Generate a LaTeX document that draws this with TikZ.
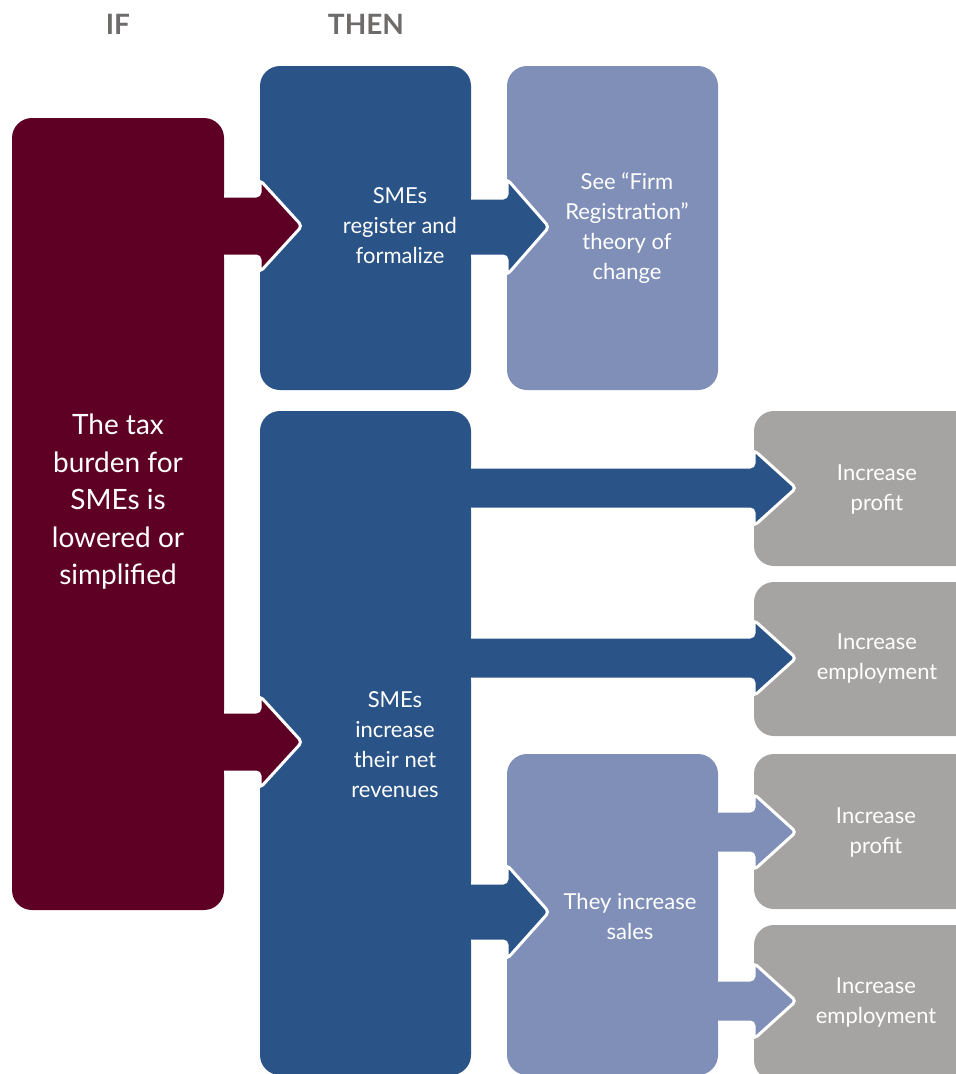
\documentclass[tikz,border=0pt]{standalone}
\usepackage{fontspec}
\setmainfont{Lato}
\usetikzlibrary{calc}

\definecolor{taxred}{HTML}{5E0024}
\definecolor{smeblue}{HTML}{2A5388}
\definecolor{paleblue}{HTML}{7F8FB8}
\definecolor{outgray}{HTML}{A5A4A2}
\definecolor{headgray}{HTML}{6E6C6B}

% Block arrow from the east side of one node to the west side of another,
% along the horizontal line through a given coordinate.
% #1 colour, #2 source, #3 target, #4 axis coordinate,
% #5 shaft half-height, #6 head half-height, #7 head length
\newcommand\blockarrow[7]{%
  \fill[#1, rounded corners=4pt]
    let \p1=(#2.east), \p2=(#3.west), \p3=(#4) in
    (\x1-12pt,\y3+#5pt) -- (\x2,\y3+#5pt) -- (\x2,\y3+#6pt) -- (\x2+#7pt,\y3)
    -- (\x2,\y3-#6pt) -- (\x2,\y3-#5pt) -- (\x1-12pt,\y3-#5pt) -- cycle;
  \draw[white, line width=3pt, rounded corners=4pt]
    let \p1=(#2.east), \p2=(#3.west), \p3=(#4) in
    (\x1,\y3+#5pt) -- (\x2,\y3+#5pt) -- (\x2,\y3+#6pt) -- (\x2+#7pt,\y3)
    -- (\x2,\y3-#6pt) -- (\x2,\y3-#5pt) -- (\x1,\y3-#5pt);
}

\begin{document}
\begin{tikzpicture}[x=1pt, y=-1pt,
  box/.style={rectangle, fill=#1, rounded corners=20pt, inner sep=0pt, outer sep=0pt},
  txt/.style={text=white, align=center, inner sep=0pt, font=\fontsize{22}{30}\selectfont},
  bigtxt/.style={text=white, align=center, inner sep=0pt, font=\fontsize{28}{37.5}\selectfont},
  head/.style={text=headgray, inner sep=0pt, font=\fontsize{28}{32}\selectfont\bfseries}]

\useasboundingbox (0,0) rectangle (956,1074);
\clip (0,0) rectangle (956,1074);

% column headings
\node[head] (if)   at (118,24) {IF};
\node[head] (then) at (366,24) {THEN};

% boxes
\node[box=taxred,   minimum width=212, minimum height=792] (tax)   at (118,514) {};
\node[box=smeblue,  minimum width=211, minimum height=324] (reg)   at (365.5,228) {};
\node[box=paleblue, minimum width=211, minimum height=324] (firm)  at (612.5,228) {};
\node[box=smeblue,  minimum width=211, minimum height=664] (net)   at (365.5,743) {};
\node[box=paleblue, minimum width=211, minimum height=321] (sales) at (612.5,914.5) {};
\node[box=outgray,  minimum width=226, minimum height=155] (prof1) at (867,488.5) {};
\node[box=outgray,  minimum width=226, minimum height=154] (emp1)  at (867,659) {};
\node[box=outgray,  minimum width=226, minimum height=155] (prof2) at (867,831.5) {};
\node[box=outgray,  minimum width=226, minimum height=155] (emp2)  at (867,1002.5) {};

% arrow axes
\coordinate (ax1) at (0,226);
\coordinate (ax2) at (0,227);
\coordinate (ax3) at (0,742);
\coordinate (ax4) at (0,488);
\coordinate (ax5) at (0,658);
\coordinate (ax6) at (0,912);
\coordinate (ax7) at (0,832);
\coordinate (ax8) at (0,1001);

% arrows
\blockarrow{taxred}{tax}{reg}{ax1}{30}{46}{42}
\blockarrow{smeblue}{reg}{firm}{ax2}{29}{48}{42}
\blockarrow{taxred}{tax}{net}{ax3}{30}{46}{42}
\blockarrow{smeblue}{net}{prof1}{ax4}{21}{38}{42}
\blockarrow{smeblue}{net}{emp1}{ax5}{21}{38}{42}
\blockarrow{smeblue}{net}{sales}{ax6}{29}{47}{42}
\blockarrow{paleblue}{sales}{prof2}{ax7}{21}{38}{42}
\blockarrow{paleblue}{sales}{emp2}{ax8}{21}{38}{42}

% texts
\node[bigtxt] (taxt)   at (118,502) {The tax\\burden for\\SMEs is\\lowered or\\simplified};
\node[txt]    (regt)   at (400,226) {SMEs\\register and\\formalize};
\node[txt]    (firmt)  at (627,228) {See “Firm\\Registration”\\theory of\\change};
\node[txt]    (nett)   at (395,745) {SMEs\\increase\\their net\\revenues};
\node[txt]    (salest) at (630,916) {They increase\\sales};
\node[txt]    (prof1t) at (877,489) {Increase\\profit};
\node[txt]    (emp1t)  at (877,658) {Increase\\employment};
\node[txt]    (prof2t) at (876,832) {Increase\\profit};
\node[txt]    (emp2t)  at (876,1002) {Increase\\employment};
\end{tikzpicture}
\end{document}
